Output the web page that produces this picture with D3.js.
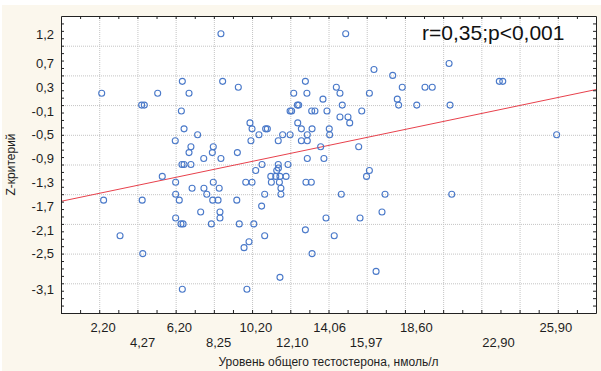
<!DOCTYPE html>
<html>
<head>
<meta charset="utf-8">
<script src="https://cdn.jsdelivr.net/npm/d3@7"></script>
<style>
  html, body { margin: 0; padding: 0; background: #fff; }
  svg { display: block; font-family: "Liberation Sans", Arial, sans-serif; }
  .grid line { stroke: #c4c4c4; stroke-dasharray: 1,1; }
  .grid path { stroke: none; }
  .frame line, .frame path { stroke: #222; }
</style>
</head>
<body>
<div id="chart"></div>
<script>
// testosterone level (nmol/l) and z-score, grouped by z row
const testosterone = [
  8.37, 14.90,
  20.31,
  16.38,
  17.36,
  6.35, 8.46, 12.79, 22.94, 23.12,
  9.28, 14.41, 17.86, 19.05, 19.43,
  2.13, 5.06, 6.70, 12.18, 12.87, 14.60, 16.14,
  13.71, 17.60,
  4.22, 4.36, 12.37, 12.44, 14.72, 17.67, 18.62, 20.36,
  6.30, 11.99, 12.07, 13.12, 13.29, 13.92, 15.74,
  14.60, 15.02,
  9.89, 12.39, 15.11,
  6.44, 10.00, 10.71, 10.80, 12.58, 13.14, 14.04,
  7.15, 10.36, 11.60, 11.99, 12.89, 14.06, 25.94,
  5.98, 9.94, 11.37, 12.58, 12.89,
  6.80, 7.97, 13.59, 15.58,
  6.70, 7.92, 9.23,
  7.47, 8.37, 12.89, 13.76,
  6.33, 6.44, 6.80, 10.52, 11.37, 11.88,
  11.38,
  10.19, 11.29, 16.14,
  5.30, 10.98, 11.24, 11.46, 11.78, 15.99,
  6.00, 7.97, 9.67, 10.00, 11.01, 11.43, 12.82, 13.10,
  6.86, 7.48, 8.28, 11.51,
  6.00, 7.63, 10.66, 11.51, 14.67, 16.96, 20.45,
  2.23, 4.25, 6.19, 7.94, 8.22, 9.20,
  10.50,
  7.31, 8.32, 16.80,
  6.00, 8.32, 13.87, 15.65,
  6.28, 6.39, 7.87, 9.33, 10.09,
  12.79,
  3.09, 10.66, 14.30,
  9.84,
  9.58,
  4.28, 13.14,
  16.49,
  11.46,
  6.35, 9.73
];
const zScore = [
  1.2, 1.2,
  0.7,
  0.6,
  0.5,
  0.4, 0.4, 0.4, 0.4, 0.4,
  0.3, 0.3, 0.3, 0.3, 0.3,
  0.2, 0.2, 0.2, 0.2, 0.2, 0.2, 0.2,
  0.1, 0.1,
  0.0, 0.0, 0.0, 0.0, 0.0, 0.0, 0.0, 0.0,
  -0.1, -0.1, -0.1, -0.1, -0.1, -0.1, -0.1,
  -0.2, -0.2,
  -0.3, -0.3, -0.3,
  -0.4, -0.4, -0.4, -0.4, -0.4, -0.4, -0.4,
  -0.5, -0.5, -0.5, -0.5, -0.5, -0.5, -0.5,
  -0.6, -0.6, -0.6, -0.6, -0.6,
  -0.7, -0.7, -0.7, -0.7,
  -0.8, -0.8, -0.8,
  -0.9, -0.9, -0.9, -0.9,
  -1.0, -1.0, -1.0, -1.0, -1.0, -1.0,
  -1.06,
  -1.1, -1.1, -1.1,
  -1.2, -1.2, -1.2, -1.2, -1.2, -1.2,
  -1.3, -1.3, -1.3, -1.3, -1.3, -1.3, -1.3, -1.3,
  -1.4, -1.4, -1.4, -1.4,
  -1.5, -1.5, -1.5, -1.5, -1.5, -1.5, -1.5,
  -1.6, -1.6, -1.6, -1.6, -1.6, -1.6,
  -1.7,
  -1.8, -1.8, -1.8,
  -1.9, -1.9, -1.9, -1.9,
  -2.0, -2.0, -2.0, -2.0, -2.0,
  -2.1,
  -2.2, -2.2, -2.2,
  -2.3,
  -2.4,
  -2.5, -2.5,
  -2.8,
  -2.9,
  -3.1, -3.1
];

// tick labels as printed on the axes
const xLabelsRow1 = [2.20, 6.20, 10.20, 14.06, 18.60, 25.90];
const xLabelsRow2 = [4.27, 8.25, 12.10, 15.97, 22.90];
const yLabels = [1.2, 0.7, 0.3, -0.1, -0.5, -0.9, -1.3, -1.7, -2.1, -2.5, -3.1];

// fitted line
const fitIntercept = -1.62;
const fitSlope = 0.0672;
const annotation = 'r=0,35;p<0,001';
const xTitle = 'Уровень общего тестостерона, нмоль/л';
const yTitle = 'Z-критерий';

const W = 601, H = 371;
const margin = { top: 16, right: 5, bottom: 58, left: 61 };
const width = W - margin.left - margin.right;
const height = H - margin.top - margin.bottom;

const x = d3.scaleLinear().domain([0, 28]).range([0, width]);
const y = d3.scaleLinear().domain([-3.5, 1.5]).range([height, 0]);

const ru = d3.formatLocale({ decimal: ',', thousands: ' ', grouping: [3], currency: ['', ''], minus: '-' });
const fmt2 = ru.format('.2f');
const fmt1 = ru.format('.1f');

const svg = d3.select('#chart').append('svg')
  .attr('width', W)
  .attr('height', H);

// cream page background with thin white strip on top/left
svg.append('rect')
  .attr('x', 2).attr('y', 5)
  .attr('width', W - 2).attr('height', H - 5)
  .attr('fill', '#fbf7ed');

const g = svg.append('g')
  .attr('transform', 'translate(' + margin.left + ',' + margin.top + ')');

g.append('rect')
  .attr('width', width).attr('height', height)
  .attr('fill', '#fff');

// grid lines
const xGrid = d3.range(2, 27, 2);
const yGrid = d3.range(-3, 1.01, 0.5);
g.append('g').attr('class', 'grid')
  .attr('transform', 'translate(0,' + height + ')')
  .call(d3.axisBottom(x).tickValues(xGrid).tickSize(-height).tickFormat(''));
g.append('g').attr('class', 'grid')
  .call(d3.axisLeft(y).tickValues(yGrid).tickSize(-width).tickFormat(''));

g.append('defs').append('clipPath')
  .attr('id', 'clip')
  .append('rect')
  .attr('width', width)
  .attr('height', height);

// regression line
const line = d3.line()
  .x(d => x(d))
  .y(d => y(fitIntercept + fitSlope * d));
g.append('path')
  .attr('clip-path', 'url(#clip)')
  .datum(x.domain())
  .attr('d', line)
  .attr('fill', 'none')
  .attr('stroke', '#e8414c')
  .attr('stroke-width', 1);

// points
g.append('g')
  .selectAll('circle')
  .data(d3.range(testosterone.length))
  .join('circle')
  .attr('cx', i => x(testosterone[i]))
  .attr('cy', i => y(zScore[i]))
  .attr('r', 3)
  .attr('fill', 'none')
  .attr('stroke', '#4a79c9')
  .attr('stroke-width', 1.1);

// frame with inward ticks on all four sides
const xMinor = d3.range(1, 28, 1);
const yMinor = d3.range(-3.5, 1.5, 0.125);
const frame = g.append('g').attr('class', 'frame');
frame.append('g')
  .attr('transform', 'translate(0,' + height + ')')
  .call(d3.axisTop(x).tickValues(xMinor).tickSize(3).tickSizeOuter(0).tickFormat(''));
frame.append('g')
  .call(d3.axisBottom(x).tickValues(xMinor).tickSize(3).tickSizeOuter(0).tickFormat(''));
frame.append('g')
  .call(d3.axisRight(y).tickValues(yMinor).tickSize(3).tickSizeOuter(0).tickFormat(''));
frame.append('g')
  .attr('transform', 'translate(' + width + ',0)')
  .call(d3.axisLeft(y).tickValues(yMinor).tickSize(3).tickSizeOuter(0).tickFormat(''));

// tick labels
const labels = g.append('g')
  .attr('font-size', 13)
  .attr('fill', '#1e1e1e');
labels.selectAll('.xl1')
  .data(xLabelsRow1)
  .join('text')
  .attr('x', d => x(d))
  .attr('y', height + 19)
  .attr('text-anchor', 'middle')
  .text(d => fmt2(d));
labels.selectAll('.xl2')
  .data(xLabelsRow2)
  .join('text')
  .attr('x', d => x(d))
  .attr('y', height + 34)
  .attr('text-anchor', 'middle')
  .text(d => fmt2(d));
labels.selectAll('.yl')
  .data(yLabels)
  .join('text')
  .attr('x', -7)
  .attr('y', d => y(d))
  .attr('dy', '0.36em')
  .attr('text-anchor', 'end')
  .text(d => fmt1(d));

// titles
g.append('text')
  .attr('x', width / 2)
  .attr('y', height + 53)
  .attr('text-anchor', 'middle')
  .attr('font-size', 12)
  .attr('fill', '#1e1e1e')
  .text(xTitle);
g.append('text')
  .attr('transform', 'translate(-46,' + (height / 2) + ') rotate(-90)')
  .attr('text-anchor', 'middle')
  .attr('font-size', 12)
  .attr('fill', '#1e1e1e')
  .text(yTitle);

g.append('text')
  .attr('x', 361)
  .attr('y', 24)
  .attr('font-size', 21)
  .attr('fill', '#111')
  .text(annotation);
</script>
</body>
</html>
